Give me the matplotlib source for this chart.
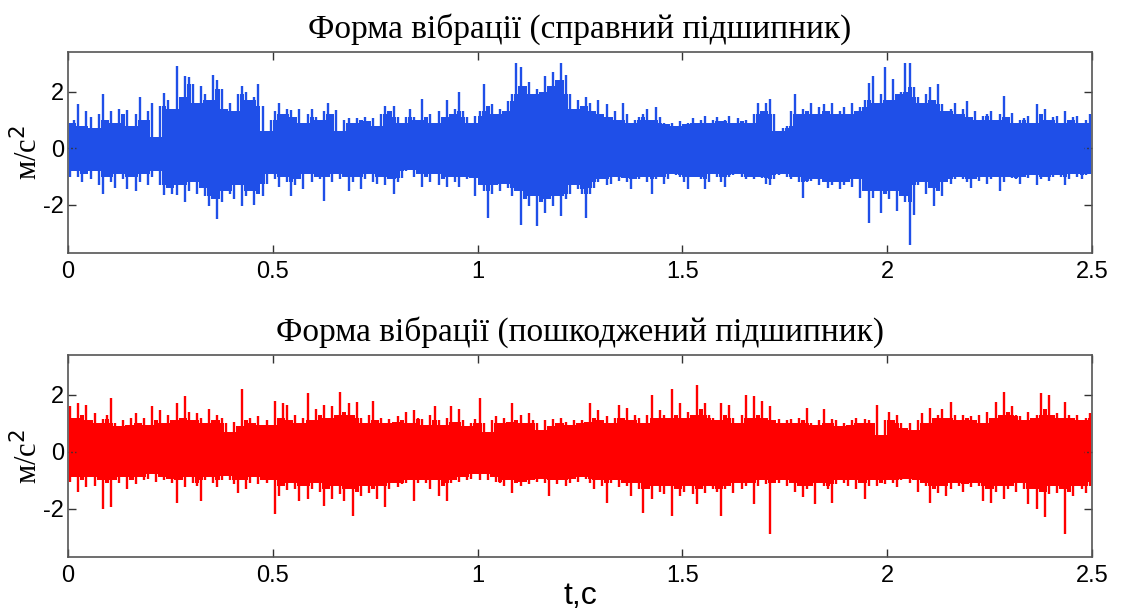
import matplotlib
matplotlib.use("Agg")
import matplotlib.pyplot as plt
import numpy as np

plt.rcParams["axes.unicode_minus"] = False

# ---- дані: піки (max) та впадини (min) сигналу у кожному інтервалі 0.01 с ----
dt = 0.01

# справний підшипник
good_hi = [
    0.9, 1.0, 1.55, 0.8, 1.3, 1.1, 0.7, 1.2, 1.9, 1.0,
    1.3, 0.9, 1.4, 1.2, 1.35, 0.8, 1.2, 1.8, 1.0, 1.3,
    1.6, 0.4, 1.5, 1.95, 1.7, 1.4, 2.9, 1.8, 2.55, 2.5,
    2.25, 1.6, 2.2, 1.9, 1.7, 2.6, 2.4, 2.1, 1.4, 1.6,
    1.3, 1.9, 2.2, 2.0, 1.7, 1.8, 2.25, 1.5, 0.6, 1.0,
    1.3, 1.6, 1.2, 1.4, 1.35, 1.1, 1.4, 0.9, 1.2, 1.4,
    1.1, 1.0, 1.3, 1.6, 1.2, 1.35, 0.6, 1.0, 1.05, 0.9,
    1.05, 1.0, 1.1, 0.95, 1.05, 0.8, 1.2, 1.5, 1.3, 1.5,
    1.1, 0.9, 1.1, 1.4, 1.1, 1.0, 1.75, 1.1, 1.2, 0.9,
    1.3, 1.1, 1.7, 1.2, 1.4, 2.0, 1.3, 1.1, 0.9, 1.15,
    1.3, 2.25, 1.5, 1.55, 1.2, 1.4, 1.3, 1.65, 1.9, 3.0,
    2.85, 2.2, 2.35, 1.9, 2.1, 2.0, 2.55, 2.2, 2.7, 2.4,
    3.0, 2.6, 1.9, 1.4, 1.7, 1.5, 1.8, 1.6, 1.3, 1.7,
    1.2, 1.55, 1.1, 1.3, 1.0, 1.6, 1.2, 0.9, 1.0, 1.1,
    1.2, 1.4, 1.0, 1.45, 1.1, 0.9, 0.85, 0.9, 0.8, 0.95,
    0.85, 0.9, 1.05, 0.9, 1.0, 1.15, 0.9, 1.0, 1.1, 0.95,
    1.0, 1.15, 0.9, 1.05, 0.95, 1.0, 0.9, 1.2, 1.6, 1.3,
    1.6, 1.75, 1.2, 0.6, 0.7, 0.8, 1.3, 1.9, 1.2, 1.4,
    1.3, 1.6, 1.2, 1.45, 1.55, 1.3, 1.6, 1.2, 1.3, 1.45,
    1.2, 1.6, 1.3, 1.45, 1.7, 2.3, 2.55, 1.6, 1.9, 2.85,
    1.7, 2.45, 1.9, 2.0, 3.0, 3.0, 2.15, 1.8, 1.6, 1.9,
    2.15, 1.7, 2.25, 1.55, 1.3, 1.4, 1.6, 1.2, 1.4, 1.65,
    1.1, 1.3, 1.0, 1.15, 1.2, 1.3, 1.0, 1.2, 1.85, 1.1,
    1.25, 0.9, 1.0, 1.05, 1.15, 0.9, 1.55, 1.2, 1.4, 1.0,
    1.1, 1.15, 0.9, 1.3, 1.0, 1.1, 1.15, 0.9, 1.0, 1.2,
]
good_lo = [
    -1.0, -0.8, -1.0, -1.2, -0.9, -1.1, -0.8, -1.3, -1.6, -1.0,
    -1.2, -1.4, -0.9, -1.1, -1.45, -1.0, -1.5, -1.2, -0.9, -1.3,
    -1.0, -0.8, -1.3, -1.65, -1.4, -1.6, -1.65, -1.3, -1.9, -1.5,
    -1.2, -1.6, -1.4, -1.7, -2.05, -1.8, -2.5, -1.9, -1.5, -1.6,
    -1.8, -1.3, -2.05, -1.7, -1.5, -2.0, -1.6, -1.7, -1.25, -0.9,
    -1.1, -1.35, -1.0, -1.2, -1.7, -1.3, -1.1, -1.45, -0.9, -1.2,
    -1.0, -1.1, -1.85, -1.0, -1.2, -0.9, -1.1, -1.0, -1.5, -1.2,
    -1.0, -1.45, -1.1, -0.9, -1.2, -1.25, -1.0, -1.3, -1.1, -1.6,
    -1.2, -1.05, -0.8, -0.75, -1.0, -0.9, -1.35, -1.0, -1.2, -0.9,
    -1.3, -1.1, -1.35, -1.0, -1.2, -1.35, -1.0, -1.1, -1.05, -1.7,
    -1.3, -1.5, -2.45, -1.6, -1.3, -1.5, -1.25, -1.4, -1.7, -1.5,
    -2.7, -1.8, -2.05, -1.7, -2.75, -1.9, -2.3, -1.8, -2.05, -1.7,
    -2.4, -1.8, -1.6, -1.3, -1.45, -1.6, -2.45, -1.6, -1.4, -1.2,
    -1.1, -1.3, -1.25, -1.0, -1.15, -1.05, -1.2, -1.45, -1.1, -1.1,
    -1.0, -1.2, -1.6, -1.1, -1.0, -1.25, -1.1, -0.9, -0.95, -1.0,
    -1.2, -1.45, -1.0, -1.0, -1.1, -1.45, -1.2, -0.9, -1.0, -1.2,
    -1.35, -1.0, -0.95, -0.9, -1.0, -1.1, -1.0, -1.1, -1.0, -1.05,
    -1.25, -1.3, -1.1, -0.95, -0.9, -1.0, -1.1, -1.0, -1.2, -1.75,
    -1.2, -1.15, -1.1, -1.3, -1.2, -1.4, -1.3, -1.2, -1.45, -1.3,
    -1.2, -1.35, -1.1, -1.75, -1.5, -2.65, -1.75, -1.5, -2.3, -1.6,
    -1.8, -1.5, -2.2, -1.7, -1.9, -3.4, -2.35, -1.3, -1.2, -1.6,
    -1.4, -2.05, -1.5, -1.7, -1.2, -1.25, -1.1, -1.0, -1.1, -1.2,
    -1.4, -1.1, -1.15, -1.0, -1.25, -1.1, -1.0, -1.5, -1.2, -1.0,
    -1.05, -1.1, -1.25, -1.0, -1.05, -0.95, -1.3, -1.1, -1.0, -1.15,
    -1.0, -0.95, -1.0, -1.3, -1.1, -0.9, -1.0, -1.1, -0.95, -0.9,
]

# пошкоджений підшипник
bad_hi = [
    1.6, 1.2, 1.7, 1.3, 1.65, 1.1, 1.35, 1.0, 1.15, 1.3,
    1.9, 1.0, 0.9, 1.1, 0.95, 1.2, 1.35, 1.0, 1.2, 0.95,
    1.6, 1.1, 1.45, 1.0, 1.3, 1.1, 1.7, 1.2, 1.95, 1.4,
    1.1, 1.35, 1.2, 1.0, 1.5, 1.1, 1.3, 1.2, 1.0, 0.7,
    1.05, 0.9, 2.2, 1.1, 1.2, 1.0, 1.25, 0.95, 1.1, 0.95,
    1.8, 1.2, 1.7, 1.65, 1.1, 1.3, 1.0, 1.2, 2.05, 1.1,
    1.5, 1.3, 1.65, 1.2, 1.6, 1.3, 2.1, 1.4, 1.7, 1.3,
    1.75, 1.2, 1.0, 1.3, 1.8, 1.1, 1.2, 1.0, 1.15, 1.05,
    1.25, 1.1, 1.4, 1.0, 1.45, 1.2, 1.15, 0.95, 1.3, 1.6,
    1.1, 0.95, 1.2, 1.6, 1.05, 1.5, 1.1, 0.9, 1.0, 1.15,
    1.9, 1.0, 0.7, 1.1, 1.25, 1.0, 1.2, 1.05, 1.7, 1.1,
    1.3, 1.0, 1.35, 1.1, 1.0, 0.75, 1.1, 0.9, 1.15, 1.0,
    1.2, 1.05, 0.95, 1.1, 1.0, 1.1, 1.05, 1.7, 1.2, 1.45,
    1.1, 1.25, 1.0, 1.2, 1.65, 1.2, 1.55, 1.1, 1.3, 1.2,
    1.0, 1.3, 2.0, 1.2, 1.45, 1.3, 1.2, 2.2, 1.3, 1.7,
    1.2, 1.4, 1.3, 2.35, 1.5, 1.7, 1.3, 1.2, 1.1, 1.7,
    1.3, 1.65, 1.2, 1.0, 1.3, 2.0, 1.2, 1.95, 1.3, 1.8,
    1.2, 1.6, 1.1, 1.15, 1.0, 1.1, 1.15, 1.0, 1.2, 1.1,
    1.55, 1.0, 0.95, 1.1, 1.5, 1.0, 1.15, 1.1, 0.9, 1.0,
    0.95, 1.1, 1.2, 1.0, 1.15, 1.1, 1.0, 1.65, 0.6, 1.1,
    1.4, 1.1, 1.3, 1.0, 0.85, 1.0, 0.75, 1.1, 1.35, 1.0,
    1.55, 1.2, 1.3, 1.5, 1.2, 1.75, 1.3, 1.1, 1.3, 1.2,
    1.25, 1.1, 1.3, 1.0, 1.4, 1.2, 1.75, 1.3, 2.1, 1.4,
    1.6, 1.3, 1.25, 1.1, 1.4, 1.2, 1.3, 2.05, 1.5, 2.0,
    1.3, 1.35, 1.2, 1.75, 1.3, 1.2, 1.3, 1.1, 1.2, 1.35,
]
bad_lo = [
    -1.05, -0.9, -1.4, -1.0, -1.25, -0.9, -1.2, -1.0, -2.0, -1.1,
    -1.95, -1.0, -1.1, -0.9, -1.3, -1.0, -1.15, -0.9, -1.0, -0.95,
    -0.8, -1.05, -0.9, -1.0, -0.95, -1.1, -1.8, -1.0, -1.25, -0.9,
    -1.1, -1.2, -1.75, -1.0, -0.9, -1.1, -1.25, -1.0, -0.85, -1.0,
    -1.15, -1.45, -1.0, -1.3, -1.1, -0.9, -1.15, -1.0, -1.1, -1.0,
    -2.2, -1.55, -1.2, -1.35, -1.1, -1.3, -1.75, -1.2, -1.65, -1.3,
    -1.1, -1.4, -1.9, -1.3, -1.65, -1.2, -1.5, -1.75, -1.3, -2.25,
    -1.4, -1.55, -1.2, -1.45, -1.3, -1.65, -1.2, -1.95, -1.3, -1.1,
    -1.25, -1.15, -1.1, -1.0, -1.75, -1.1, -1.0, -1.1, -1.3, -1.0,
    -1.55, -1.2, -1.75, -1.1, -1.0, -1.05, -0.9, -1.0, -0.95, -0.8,
    -1.0, -0.8, -1.0, -0.9, -1.05, -1.1, -1.2, -1.0, -1.45, -1.1,
    -1.2, -1.05, -1.15, -1.0, -1.05, -0.95, -1.1, -1.55, -1.0, -1.15,
    -1.0, -1.2, -1.1, -0.95, -1.05, -0.9, -0.95, -1.1, -1.3, -1.0,
    -1.2, -1.8, -1.1, -1.0, -1.25, -1.1, -1.2, -1.55, -1.1, -1.3,
    -2.15, -1.3, -1.65, -1.2, -1.4, -1.5, -1.2, -2.25, -1.3, -1.55,
    -1.4, -1.2, -1.5, -1.85, -1.3, -1.45, -1.2, -1.3, -1.4, -2.25,
    -1.3, -1.2, -1.45, -1.1, -1.3, -1.2, -1.1, -1.85, -1.2, -1.0,
    -1.15, -2.9, -1.1, -1.1, -1.0, -1.2, -1.1, -1.4, -1.2, -1.6,
    -1.3, -1.2, -1.85, -1.1, -1.2, -1.3, -1.8, -1.15, -1.0, -1.1,
    -1.2, -1.0, -1.3, -1.1, -1.65, -1.2, -1.0, -1.2, -1.1, -1.15,
    -1.0, -1.1, -1.25, -1.0, -0.95, -1.1, -1.0, -1.4, -1.1, -1.2,
    -1.8, -1.3, -1.45, -1.2, -1.55, -1.3, -1.1, -1.2, -1.4, -1.15,
    -1.25, -1.1, -1.2, -1.75, -1.3, -1.8, -1.4, -1.2, -1.65, -1.3,
    -1.2, -1.4, -1.1, -1.3, -1.85, -1.3, -2.0, -1.4, -2.3, -1.5,
    -1.2, -1.45, -1.3, -2.9, -1.4, -1.55, -1.2, -1.3, -1.45, -1.2,
]

titles = ["Форма вібрації (справний підшипник)",
          "Форма вібрації (пошкоджений підшипник)"]
colors = ["#1f4fe8", "#ff0000"]
xticks = [0, 0.5, 1, 1.5, 2, 2.5]
xticklabels = ["0", "0.5", "1", "1.5", "2", "2.5"]
yticks = [-2, 0, 2]

fig = plt.figure(figsize=(11.22, 6.10), dpi=100)
ax1 = fig.add_axes([0.0606, 0.585, 0.9125, 0.330])
ax2 = fig.add_axes([0.0606, 0.087, 0.9125, 0.331])

for ax, hi, lo, col, title in [(ax1, good_hi, good_lo, colors[0], titles[0]),
                               (ax2, bad_hi, bad_lo, colors[1], titles[1])]:
    hi = np.array(hi)
    lo = np.array(lo)
    t = np.arange(len(hi)) * dt + dt / 2
    # щільне "ядро" сигналу: найменший розмах серед сусідніх інтервалів
    core_hi = np.minimum(np.minimum(hi, np.roll(hi, 1)), np.roll(hi, -1))
    core_lo = np.maximum(np.maximum(lo, np.roll(lo, 1)), np.roll(lo, -1))
    ax.fill_between(t, core_lo, core_hi, step="mid", color=col, lw=0)
    # окремі сплески - тонкі вертикальні штрихи
    ax.vlines(t, lo, hi, color=col, lw=1.7)
    ax.set_xlim(0, 2.5)
    ax.set_ylim(-3.7, 3.4)
    ax.set_xticks(xticks)
    ax.set_xticklabels(xticklabels)
    ax.set_yticks(yticks)
    ax.tick_params(direction="in", top=True, right=True, length=6,
                   width=1, color="#333333", labelsize=17, pad=6)
    ax.tick_params(axis="y", pad=3)
    for lab in ax.get_xticklabels() + ax.get_yticklabels():
        lab.set_family("Liberation Sans")
    for s in ax.spines.values():
        s.set_color("#555555")
        s.set_linewidth(1.2)
    ax.set_title(title, family="Liberation Serif", fontsize=24, pad=10)
    ax.set_ylabel("м/с$^2$", family="Liberation Serif", fontsize=22)
    ax.yaxis.set_label_coords(-0.023, 0.5)

ax2.set_xlabel("t,c", family="Liberation Sans", fontsize=23)
ax2.xaxis.set_label_coords(0.5, -0.12)

fig.savefig("out.png", dpi=100)
